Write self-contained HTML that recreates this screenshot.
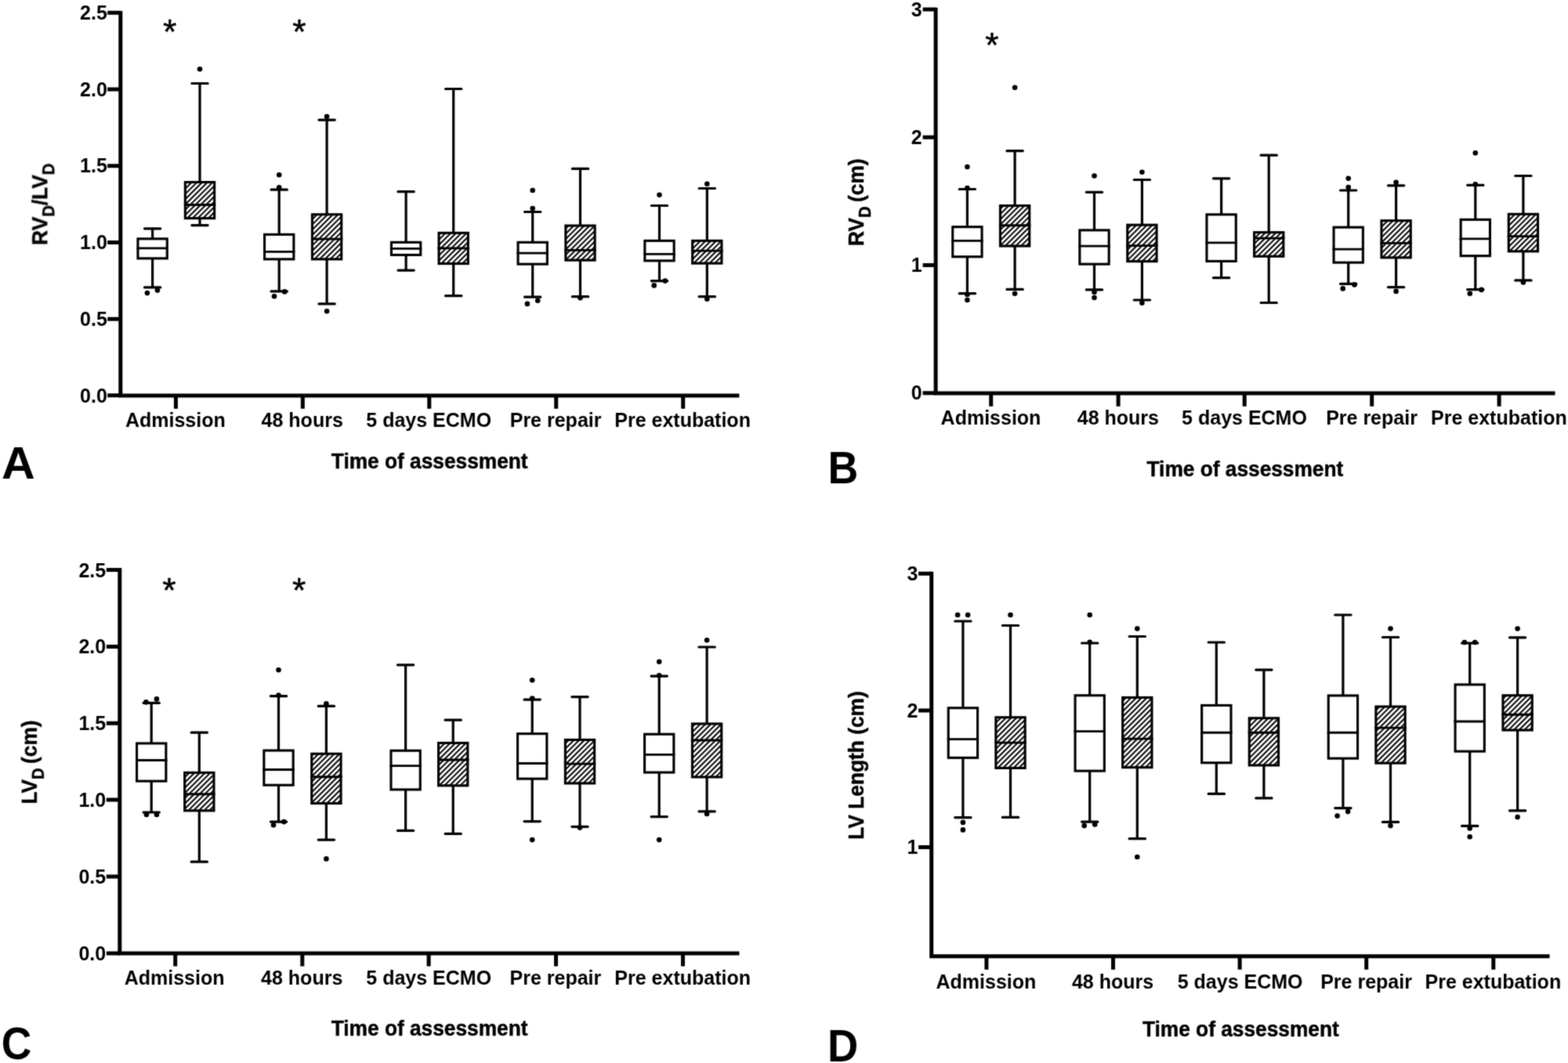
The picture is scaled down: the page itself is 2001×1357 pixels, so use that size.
<!DOCTYPE html>
<html lang="en"><head><meta charset="utf-8"><title>Box plots</title>
<style>
html,body{margin:0;padding:0;background:#fff;}
body{width:2001px;height:1357px;overflow:hidden;}
svg{display:block;}
text{font-family:"Liberation Sans",Arial,Helvetica,sans-serif;font-weight:bold;fill:#000;}
.ax{stroke:#000;stroke-width:5;fill:none;stroke-linecap:butt;}
.bx{stroke:#000;stroke-width:3.1;stroke-linejoin:miter;}
.wh{stroke:#000;stroke-width:3.2;fill:none;stroke-linecap:butt;}
.cp{stroke:#000;stroke-width:3.2;fill:none;stroke-linecap:round;}
.st{font-weight:normal;stroke:#000;stroke-width:0.5px;stroke-linejoin:round;}
.tt{stroke:#000;stroke-width:0.45px;stroke-linejoin:round;}
.md{stroke:#000;stroke-width:2.9;fill:none;}
</style></head><body>
<svg width="2001" height="1357" viewBox="0 0 2001 1357" role="img" aria-label="Box plots of RVD/LVD, RVD, LVD and LV length by time of assessment">
<defs><filter id="soft" x="0" y="0" width="2001" height="1357" filterUnits="userSpaceOnUse" color-interpolation-filters="sRGB"><feConvolveMatrix order="3" kernelMatrix="1 4 1 4 16 4 1 4 1" divisor="36" edgeMode="duplicate"/></filter>
<pattern id="hatch" patternUnits="userSpaceOnUse" width="4.74" height="4.74" patternTransform="rotate(45)"><rect x="0" y="0" width="4.74" height="4.74" fill="#fff"/><rect x="0" y="0" width="2" height="4.74" fill="#000"/></pattern></defs>
<rect x="0" y="0" width="2001" height="1357" fill="#fff"/>
<g id="fig" filter="url(#soft)">
<g id="panel-A">
<path class="wh" d="M194.6 291.8V304.3M194.6 330.4V366.9"/>
<path class="cp" d="M184.45 291.8H204.75M184.45 366.9H204.75"/>
<rect class="bx" x="175.95" y="304.85" width="37.3" height="25" fill="#fff"/>
<path class="md" d="M174.4 316.9H214.8"/>
<circle cx="187.9" cy="374.1" r="3.3"/>
<circle cx="200.9" cy="370.6" r="3.3"/>
<path class="wh" d="M255 106.5V232M255 279.2V287.6"/>
<path class="cp" d="M244.85 106.5H265.15M244.85 287.6H265.15"/>
<rect class="bx" x="236.35" y="232.55" width="37.3" height="46.1" fill="url(#hatch)"/>
<path class="md" d="M234.8 261.5H275.2"/>
<circle cx="255" cy="88.3" r="3.3"/>
<path class="wh" d="M356.2 242.2V298.8M356.2 331.4V371.9"/>
<path class="cp" d="M346.05 242.2H366.35M346.05 371.9H366.35"/>
<rect class="bx" x="337.55" y="299.35" width="37.3" height="31.5" fill="#fff"/>
<path class="md" d="M336 321.4H376.4"/>
<circle cx="356.2" cy="223.2" r="3.3"/>
<circle cx="356.2" cy="239.2" r="3.3"/>
<circle cx="350" cy="378.2" r="3.3"/>
<circle cx="363.2" cy="372.4" r="3.3"/>
<path class="wh" d="M417.1 153.1V273.2M417.1 331.4V387.9"/>
<path class="cp" d="M406.95 153.1H427.25M406.95 387.9H427.25"/>
<rect class="bx" x="398.45" y="273.75" width="37.3" height="57.1" fill="url(#hatch)"/>
<path class="md" d="M396.9 305.1H437.3"/>
<circle cx="417.1" cy="148.8" r="3.3"/>
<circle cx="417.1" cy="397.2" r="3.3"/>
<path class="wh" d="M518.1 244.7V308.8M518.1 326V345.1"/>
<path class="cp" d="M507.95 244.7H528.25M507.95 345.1H528.25"/>
<rect class="bx" x="499.45" y="309.35" width="37.3" height="16.1" fill="#fff"/>
<path class="md" d="M497.9 317.4H538.3"/>
<path class="wh" d="M578.7 113.5V296.8M578.7 337.1V377.7"/>
<path class="cp" d="M568.55 113.5H588.85M568.55 377.7H588.85"/>
<rect class="bx" x="560.05" y="297.35" width="37.3" height="39.2" fill="url(#hatch)"/>
<path class="md" d="M558.5 316.9H598.9"/>
<path class="wh" d="M679.7 270.5V308.8M679.7 337.7V379.2"/>
<path class="cp" d="M669.55 270.5H689.85M669.55 379.2H689.85"/>
<rect class="bx" x="661.05" y="309.35" width="37.3" height="27.8" fill="#fff"/>
<path class="md" d="M659.5 323.1H699.9"/>
<circle cx="679.7" cy="243" r="3.3"/>
<circle cx="679.7" cy="266" r="3.3"/>
<circle cx="672.9" cy="387.9" r="3.3"/>
<circle cx="686.2" cy="383.7" r="3.3"/>
<path class="wh" d="M740.5 215.4V287.5M740.5 332.7V378.7"/>
<path class="cp" d="M730.35 215.4H750.65M730.35 378.7H750.65"/>
<rect class="bx" x="721.85" y="288.05" width="37.3" height="44.1" fill="url(#hatch)"/>
<path class="md" d="M720.3 319.4H760.7"/>
<circle cx="740.5" cy="380.2" r="3.3"/>
<path class="wh" d="M841.5 262.5V306.8M841.5 333.4V358.6"/>
<path class="cp" d="M831.35 262.5H851.65M831.35 358.6H851.65"/>
<rect class="bx" x="822.85" y="307.35" width="37.3" height="25.5" fill="#fff"/>
<path class="md" d="M821.3 324.4H861.7"/>
<circle cx="841.5" cy="248.7" r="3.3"/>
<circle cx="834.7" cy="364.4" r="3.3"/>
<circle cx="848.7" cy="358.6" r="3.3"/>
<path class="wh" d="M902.3 240.5V306.8M902.3 336.7V378.7"/>
<path class="cp" d="M892.15 240.5H912.45M892.15 378.7H912.45"/>
<rect class="bx" x="883.65" y="307.35" width="37.3" height="28.8" fill="url(#hatch)"/>
<path class="md" d="M882.1 320.1H922.5"/>
<circle cx="902.3" cy="234.7" r="3.3"/>
<circle cx="902.3" cy="381.7" r="3.3"/>
<path class="ax" d="M153.8 13.9V507.5M151.3 505H943.4"/>
<path class="ax" d="M137.2 16.3H153.8M137.2 114H153.8M137.2 211.7H153.8M137.2 309.4H153.8M137.2 407.2H153.8M137.2 504.8H153.8M224.4 505V521.8M386.3 505V521.8M547.8 505V521.8M709.7 505V521.8M871.7 505V521.8"/>
<text x="136.8" y="25" text-anchor="end" font-size="25">2.5</text>
<text x="136.8" y="122.7" text-anchor="end" font-size="25">2.0</text>
<text x="136.8" y="220.4" text-anchor="end" font-size="25">1.5</text>
<text x="136.8" y="318.1" text-anchor="end" font-size="25">1.0</text>
<text x="136.8" y="415.9" text-anchor="end" font-size="25">0.5</text>
<text x="136.8" y="513.5" text-anchor="end" font-size="25">0.0</text>
<text x="223.8" y="544.5" text-anchor="middle" font-size="25">Admission</text>
<text x="385.7" y="544.5" text-anchor="middle" font-size="25">48 hours</text>
<text x="547.2" y="544.5" text-anchor="middle" font-size="25">5 days ECMO</text>
<text x="709.1" y="544.5" text-anchor="middle" font-size="25">Pre repair</text>
<text x="871.1" y="544.5" text-anchor="middle" font-size="25">Pre extubation</text>
<text transform="translate(548.2 598.1) scale(1 1.07)" text-anchor="middle" font-size="26.3" class="tt">Time of assessment</text>
<text transform="translate(1.9 610.5) scale(1.02 0.99)" font-size="58">A</text>
<text transform="translate(60 260.7) rotate(-90) scale(1 1.07)" text-anchor="middle" class="tt" font-size="26.3">RV<tspan font-size="20.25" dy="8.42">D</tspan><tspan dy="-8.42">/LV</tspan><tspan font-size="20.25" dy="8.42">D</tspan></text>
<text x="216.7" y="55.68" text-anchor="middle" font-size="44.5" class="st">*</text>
<text x="382" y="55.68" text-anchor="middle" font-size="44.5" class="st">*</text>
</g>
<g id="panel-B">
<path class="wh" d="M1234.4 241.5V289.1M1234.4 328.3V374.7"/>
<path class="cp" d="M1224.25 241.5H1244.55M1224.25 374.7H1244.55"/>
<rect class="bx" x="1215.75" y="289.65" width="37.3" height="38.1" fill="#fff"/>
<path class="md" d="M1214.2 307.4H1254.6"/>
<circle cx="1234.4" cy="213" r="3.3"/>
<circle cx="1234.4" cy="240" r="3.3"/>
<circle cx="1234.4" cy="375.9" r="3.3"/>
<circle cx="1234.4" cy="383" r="3.3"/>
<path class="wh" d="M1295.1 192.7V262M1295.1 314.6V369.4"/>
<path class="cp" d="M1284.95 192.7H1305.25M1284.95 369.4H1305.25"/>
<rect class="bx" x="1276.45" y="262.55" width="37.3" height="51.5" fill="url(#hatch)"/>
<path class="md" d="M1274.9 287.8H1315.3"/>
<circle cx="1295.1" cy="111.8" r="3.3"/>
<circle cx="1295.1" cy="374.7" r="3.3"/>
<path class="wh" d="M1396.5 245.3V293.3M1396.5 337.7V369.9"/>
<path class="cp" d="M1386.35 245.3H1406.65M1386.35 369.9H1406.65"/>
<rect class="bx" x="1377.85" y="293.85" width="37.3" height="43.3" fill="#fff"/>
<path class="md" d="M1376.3 314.1H1416.7"/>
<circle cx="1396.5" cy="224.5" r="3.3"/>
<circle cx="1396.5" cy="372.9" r="3.3"/>
<circle cx="1396.5" cy="380" r="3.3"/>
<path class="wh" d="M1457.4 229.5V286.6M1457.4 334.2V383"/>
<path class="cp" d="M1447.25 229.5H1467.55M1447.25 383H1467.55"/>
<rect class="bx" x="1438.75" y="287.15" width="37.3" height="46.5" fill="url(#hatch)"/>
<path class="md" d="M1437.2 313.6H1477.6"/>
<circle cx="1457.4" cy="219.7" r="3.3"/>
<circle cx="1457.4" cy="386.7" r="3.3"/>
<path class="wh" d="M1558.6 227.8V273.3M1558.6 334V354.7"/>
<path class="cp" d="M1548.45 227.8H1568.75M1548.45 354.7H1568.75"/>
<rect class="bx" x="1539.95" y="273.85" width="37.3" height="59.6" fill="#fff"/>
<path class="md" d="M1538.4 309.9H1578.8"/>
<path class="wh" d="M1619.2 198.2V296.1M1619.2 327.8V386.5"/>
<path class="cp" d="M1609.05 198.2H1629.35M1609.05 386.5H1629.35"/>
<rect class="bx" x="1600.55" y="296.65" width="37.3" height="30.6" fill="url(#hatch)"/>
<path class="md" d="M1599 304.1H1639.4"/>
<path class="wh" d="M1720.7 243V289.6M1720.7 335.7V362.4"/>
<path class="cp" d="M1710.55 243H1730.85M1710.55 362.4H1730.85"/>
<rect class="bx" x="1702.05" y="290.15" width="37.3" height="45" fill="#fff"/>
<path class="md" d="M1700.5 318.1H1740.9"/>
<circle cx="1720.7" cy="227.8" r="3.3"/>
<circle cx="1720.7" cy="239" r="3.3"/>
<circle cx="1713.7" cy="368.4" r="3.3"/>
<circle cx="1728.5" cy="363.4" r="3.3"/>
<path class="wh" d="M1781.6 236.8V281.1M1781.6 329.4V366.7"/>
<path class="cp" d="M1771.45 236.8H1791.75M1771.45 366.7H1791.75"/>
<rect class="bx" x="1762.95" y="281.65" width="37.3" height="47.2" fill="url(#hatch)"/>
<path class="md" d="M1761.4 310.4H1801.8"/>
<circle cx="1781.6" cy="232.8" r="3.3"/>
<circle cx="1781.6" cy="371.9" r="3.3"/>
<path class="wh" d="M1882.8 236.3V279.8M1882.8 327.2V369.7"/>
<path class="cp" d="M1872.65 236.3H1892.95M1872.65 369.7H1892.95"/>
<rect class="bx" x="1864.15" y="280.35" width="37.3" height="46.3" fill="#fff"/>
<path class="md" d="M1862.6 304.9H1903"/>
<circle cx="1882.8" cy="195.2" r="3.3"/>
<circle cx="1882.8" cy="235.3" r="3.3"/>
<circle cx="1875.8" cy="374.7" r="3.3"/>
<circle cx="1890.5" cy="369.9" r="3.3"/>
<path class="wh" d="M1943.9 224.5V272.8M1943.9 321.4V357.9"/>
<path class="cp" d="M1933.75 224.5H1954.05M1933.75 357.9H1954.05"/>
<rect class="bx" x="1925.25" y="273.35" width="37.3" height="47.5" fill="url(#hatch)"/>
<path class="md" d="M1923.7 301.6H1964.1"/>
<circle cx="1943.9" cy="360.4" r="3.3"/>
<path class="ax" d="M1194.1 9.8V504.6M1191.6 502.1H1984.5"/>
<path class="ax" d="M1177.6 12H1194.1M1177.6 175.2H1194.1M1177.6 338.4H1194.1M1177.6 501.7H1194.1M1264.7 502.1V518.8M1427.1 502.1V518.8M1588.2 502.1V518.8M1750.7 502.1V518.8M1913.1 502.1V518.8"/>
<text x="1176.7" y="20.7" text-anchor="end" font-size="25">3</text>
<text x="1176.7" y="183.9" text-anchor="end" font-size="25">2</text>
<text x="1176.7" y="347.1" text-anchor="end" font-size="25">1</text>
<text x="1176.7" y="510.4" text-anchor="end" font-size="25">0</text>
<text x="1264.5" y="541.7" text-anchor="middle" font-size="25">Admission</text>
<text x="1426.9" y="541.7" text-anchor="middle" font-size="25">48 hours</text>
<text x="1588" y="541.7" text-anchor="middle" font-size="25">5 days ECMO</text>
<text x="1750.5" y="541.7" text-anchor="middle" font-size="25">Pre repair</text>
<text x="1912.9" y="541.7" text-anchor="middle" font-size="25">Pre extubation</text>
<text transform="translate(1588.9 607.5) scale(1 1.07)" text-anchor="middle" font-size="26.3" class="tt">Time of assessment</text>
<text transform="translate(1056.5 616.6) scale(0.926 0.978)" font-size="58">B</text>
<text transform="translate(1101.7 258.2) rotate(-90) scale(1 1.07)" text-anchor="middle" class="tt" font-size="26.3">RV<tspan font-size="20.25" dy="8.42">D</tspan><tspan dy="-8.42" dx="-1.9"> (cm)</tspan></text>
<text x="1266" y="73.43" text-anchor="middle" font-size="44.5" class="st">*</text>
</g>
<g id="panel-C">
<path class="wh" d="M193.2 897.4V948.4M193.2 997.7V1037"/>
<path class="cp" d="M183.05 897.4H203.35M183.05 1037H203.35"/>
<rect class="bx" x="174.55" y="948.95" width="37.3" height="48.2" fill="#fff"/>
<path class="md" d="M173 970.5H213.4"/>
<circle cx="186.4" cy="896.4" r="3.3"/>
<circle cx="199.9" cy="892.4" r="3.3"/>
<circle cx="186.9" cy="1040" r="3.3"/>
<circle cx="199.9" cy="1040" r="3.3"/>
<path class="wh" d="M254.3 935.2V985.8M254.3 1035.4V1100.2"/>
<path class="cp" d="M244.15 935.2H264.45M244.15 1100.2H264.45"/>
<rect class="bx" x="235.65" y="986.35" width="37.3" height="48.5" fill="url(#hatch)"/>
<path class="md" d="M234.1 1013.8H274.5"/>
<path class="wh" d="M355.5 888.6V957.5M355.5 1002.8V1049.1"/>
<path class="cp" d="M345.35 888.6H365.65M345.35 1049.1H365.65"/>
<rect class="bx" x="336.85" y="958.05" width="37.3" height="44.2" fill="#fff"/>
<path class="md" d="M335.3 982.5H375.7"/>
<circle cx="355.5" cy="855.3" r="3.3"/>
<circle cx="355.5" cy="887.6" r="3.3"/>
<circle cx="349" cy="1053.3" r="3.3"/>
<circle cx="362.3" cy="1049.1" r="3.3"/>
<path class="wh" d="M416.4 901.4V961.7M416.4 1026.1V1072.1"/>
<path class="cp" d="M406.25 901.4H426.55M406.25 1072.1H426.55"/>
<rect class="bx" x="397.75" y="962.25" width="37.3" height="63.3" fill="url(#hatch)"/>
<path class="md" d="M396.2 991.8H436.6"/>
<circle cx="416.4" cy="898.4" r="3.3"/>
<circle cx="416.4" cy="1096.4" r="3.3"/>
<path class="wh" d="M517.6 848.8V957.7M517.6 1008.5V1060.3"/>
<path class="cp" d="M507.45 848.8H527.75M507.45 1060.3H527.75"/>
<rect class="bx" x="498.95" y="958.25" width="37.3" height="49.7" fill="#fff"/>
<path class="md" d="M497.4 977.6H537.8"/>
<path class="wh" d="M578.2 919.2V947.9M578.2 1003.4V1064.3"/>
<path class="cp" d="M568.05 919.2H588.35M568.05 1064.3H588.35"/>
<rect class="bx" x="559.55" y="948.45" width="37.3" height="54.4" fill="url(#hatch)"/>
<path class="md" d="M558 970H598.4"/>
<path class="wh" d="M679.2 893.1V936.1M679.2 994.7V1048.6"/>
<path class="cp" d="M669.05 893.1H689.35M669.05 1048.6H689.35"/>
<rect class="bx" x="660.55" y="936.65" width="37.3" height="57.5" fill="#fff"/>
<path class="md" d="M659 974.5H699.4"/>
<circle cx="679.2" cy="868.3" r="3.3"/>
<circle cx="679.2" cy="891.6" r="3.3"/>
<circle cx="679.2" cy="1072.1" r="3.3"/>
<path class="wh" d="M740 889.6V943.9M740 1000.5V1055.3"/>
<path class="cp" d="M729.85 889.6H750.15M729.85 1055.3H750.15"/>
<rect class="bx" x="721.35" y="944.45" width="37.3" height="55.5" fill="url(#hatch)"/>
<path class="md" d="M719.8 975.1H760.2"/>
<circle cx="740" cy="1056.6" r="3.3"/>
<path class="wh" d="M841.2 863.1V936.7M841.2 986.6V1042.6"/>
<path class="cp" d="M831.05 863.1H851.35M831.05 1042.6H851.35"/>
<rect class="bx" x="822.55" y="937.25" width="37.3" height="48.8" fill="#fff"/>
<path class="md" d="M821 963.4H861.4"/>
<circle cx="841.2" cy="844.8" r="3.3"/>
<circle cx="841.2" cy="862.3" r="3.3"/>
<circle cx="841.2" cy="1072.1" r="3.3"/>
<path class="wh" d="M902.1 826V923.4M902.1 992.5V1035.8"/>
<path class="cp" d="M891.95 826H912.25M891.95 1035.8H912.25"/>
<rect class="bx" x="883.45" y="923.95" width="37.3" height="68" fill="url(#hatch)"/>
<path class="md" d="M881.9 945H922.3"/>
<circle cx="902.1" cy="817.2" r="3.3"/>
<circle cx="902.1" cy="1039" r="3.3"/>
<path class="ax" d="M152.8 725V1219.4M150.3 1216.9H943.4"/>
<path class="ax" d="M135.8 727.5H152.8M135.8 825.4H152.8M135.8 923.3H152.8M135.8 1021.1H152.8M135.8 1119H152.8M135.8 1216.9H152.8M223.7 1216.9V1233.6M385.8 1216.9V1233.6M547.1 1216.9V1233.6M709.5 1216.9V1233.6M871.5 1216.9V1233.6"/>
<text x="135.2" y="736.5" text-anchor="end" font-size="25">2.5</text>
<text x="135.2" y="834.4" text-anchor="end" font-size="25">2.0</text>
<text x="135.2" y="932.3" text-anchor="end" font-size="25">1.5</text>
<text x="135.2" y="1030.1" text-anchor="end" font-size="25">1.0</text>
<text x="135.2" y="1128" text-anchor="end" font-size="25">0.5</text>
<text x="135.2" y="1225.9" text-anchor="end" font-size="25">0.0</text>
<text x="222.6" y="1256.9" text-anchor="middle" font-size="25">Admission</text>
<text x="385.2" y="1256.9" text-anchor="middle" font-size="25">48 hours</text>
<text x="547.2" y="1256.9" text-anchor="middle" font-size="25">5 days ECMO</text>
<text x="708.9" y="1256.9" text-anchor="middle" font-size="25">Pre repair</text>
<text x="871.2" y="1256.9" text-anchor="middle" font-size="25">Pre extubation</text>
<text transform="translate(548.1 1321.9) scale(1 1.07)" text-anchor="middle" font-size="26.3" class="tt">Time of assessment</text>
<text transform="translate(1.7 1352) scale(0.92 0.99)" font-size="58">C</text>
<text transform="translate(46.6 973) rotate(-90) scale(1 1.07)" text-anchor="middle" class="tt" font-size="26.3">LV<tspan font-size="20.25" dy="8.42">D</tspan><tspan dy="-8.42" dx="-1.9"> (cm)</tspan></text>
<text x="215.9" y="768.73" text-anchor="middle" font-size="44.5" class="st">*</text>
<text x="381.7" y="768.73" text-anchor="middle" font-size="44.5" class="st">*</text>
</g>
<g id="panel-D">
<path class="wh" d="M1228.9 793V903.2M1228.9 967.9V1043.6"/>
<path class="cp" d="M1218.75 793H1239.05M1218.75 1043.6H1239.05"/>
<rect class="bx" x="1210.25" y="903.75" width="37.3" height="63.6" fill="#fff"/>
<path class="md" d="M1208.7 943.6H1249.1"/>
<circle cx="1222.1" cy="785" r="3.3"/>
<circle cx="1235.1" cy="785" r="3.3"/>
<circle cx="1228.9" cy="1049.9" r="3.3"/>
<circle cx="1228.9" cy="1059.4" r="3.3"/>
<path class="wh" d="M1289.5 798.5V915.2M1289.5 981V1043.4"/>
<path class="cp" d="M1279.35 798.5H1299.65M1279.35 1043.4H1299.65"/>
<rect class="bx" x="1270.85" y="915.75" width="37.3" height="64.7" fill="url(#hatch)"/>
<path class="md" d="M1269.3 948.1H1309.7"/>
<circle cx="1289.5" cy="785" r="3.3"/>
<path class="wh" d="M1390.7 821V887.2M1390.7 984.7V1049.1"/>
<path class="cp" d="M1380.55 821H1400.85M1380.55 1049.1H1400.85"/>
<rect class="bx" x="1372.05" y="887.75" width="37.3" height="96.4" fill="#fff"/>
<path class="md" d="M1370.5 933.6H1410.9"/>
<circle cx="1390.7" cy="785" r="3.3"/>
<circle cx="1390.7" cy="819.8" r="3.3"/>
<circle cx="1383.7" cy="1054.1" r="3.3"/>
<circle cx="1397.2" cy="1052.4" r="3.3"/>
<path class="wh" d="M1451.3 812.5V889.9M1451.3 980.2V1070.7"/>
<path class="cp" d="M1441.15 812.5H1461.45M1441.15 1070.7H1461.45"/>
<rect class="bx" x="1432.65" y="890.45" width="37.3" height="89.2" fill="url(#hatch)"/>
<path class="md" d="M1431.1 943.1H1471.5"/>
<circle cx="1451.3" cy="802.5" r="3.3"/>
<circle cx="1451.3" cy="1094" r="3.3"/>
<path class="wh" d="M1552.3 820V899.9M1552.3 974.3V1013.4"/>
<path class="cp" d="M1542.15 820H1562.45M1542.15 1013.4H1562.45"/>
<rect class="bx" x="1533.65" y="900.45" width="37.3" height="73.3" fill="#fff"/>
<path class="md" d="M1532.1 935.3H1572.5"/>
<path class="wh" d="M1612.9 855.1V916.2M1612.9 977.5V1018.9"/>
<path class="cp" d="M1602.75 855.1H1623.05M1602.75 1018.9H1623.05"/>
<rect class="bx" x="1594.25" y="916.75" width="37.3" height="60.2" fill="url(#hatch)"/>
<path class="md" d="M1592.7 935.3H1633.1"/>
<path class="wh" d="M1713.9 785V887.4M1713.9 968.7V1031.6"/>
<path class="cp" d="M1703.75 785H1724.05M1703.75 1031.6H1724.05"/>
<rect class="bx" x="1695.25" y="887.95" width="37.3" height="80.2" fill="#fff"/>
<path class="md" d="M1693.7 935.3H1734.1"/>
<circle cx="1706.6" cy="1041.6" r="3.3"/>
<circle cx="1720.1" cy="1036.1" r="3.3"/>
<path class="wh" d="M1774.5 813.5V901.5M1774.5 974.7V1049.4"/>
<path class="cp" d="M1764.35 813.5H1784.65M1764.35 1049.4H1784.65"/>
<rect class="bx" x="1755.85" y="902.05" width="37.3" height="72.1" fill="url(#hatch)"/>
<path class="md" d="M1754.3 929.1H1794.7"/>
<circle cx="1774.5" cy="802.5" r="3.3"/>
<circle cx="1774.5" cy="1054.1" r="3.3"/>
<path class="wh" d="M1875.7 821V873.4M1875.7 959.7V1054.4"/>
<path class="cp" d="M1865.55 821H1885.85M1865.55 1054.4H1885.85"/>
<rect class="bx" x="1857.05" y="873.95" width="37.3" height="85.2" fill="#fff"/>
<path class="md" d="M1855.5 921H1895.9"/>
<circle cx="1868.9" cy="820" r="3.3"/>
<circle cx="1882.2" cy="820" r="3.3"/>
<circle cx="1875.7" cy="1057.4" r="3.3"/>
<circle cx="1875.7" cy="1068.2" r="3.3"/>
<path class="wh" d="M1936.6 813.8V887.2M1936.6 932.6V1034.8"/>
<path class="cp" d="M1926.45 813.8H1946.75M1926.45 1034.8H1946.75"/>
<rect class="bx" x="1917.95" y="887.75" width="37.3" height="44.3" fill="url(#hatch)"/>
<path class="md" d="M1916.4 912.3H1956.8"/>
<circle cx="1936.6" cy="802.5" r="3.3"/>
<circle cx="1936.6" cy="1043.1" r="3.3"/>
<path class="ax" d="M1188.7 729.8V1223.3M1186.2 1220.8H1977.5"/>
<path class="ax" d="M1172.1 732.2H1188.7M1172.1 906.9H1188.7M1172.1 1081.6H1188.7M1258.9 1220.8V1237.7M1420.5 1220.8V1237.7M1582.1 1220.8V1237.7M1743.7 1220.8V1237.7M1905.8 1220.8V1237.7"/>
<text x="1171.3" y="740.9" text-anchor="end" font-size="25">3</text>
<text x="1171.3" y="915.6" text-anchor="end" font-size="25">2</text>
<text x="1171.3" y="1090.3" text-anchor="end" font-size="25">1</text>
<text x="1258.45" y="1261.5" text-anchor="middle" font-size="25">Admission</text>
<text x="1420.05" y="1261.5" text-anchor="middle" font-size="25">48 hours</text>
<text x="1582.65" y="1261.5" text-anchor="middle" font-size="25">5 days ECMO</text>
<text x="1743.55" y="1261.5" text-anchor="middle" font-size="25">Pre repair</text>
<text x="1905.35" y="1261.5" text-anchor="middle" font-size="25">Pre extubation</text>
<text transform="translate(1583.3 1322.6) scale(1 1.07)" text-anchor="middle" font-size="26.3" class="tt">Time of assessment</text>
<text transform="translate(1056 1354.5) scale(0.9375 0.985)" font-size="58">D</text>
<text transform="translate(1101.9 977) rotate(-90) scale(1 1.07)" text-anchor="middle" class="tt" font-size="26.3">LV Length (cm)</text>
</g>
</g>
</svg></body></html>
